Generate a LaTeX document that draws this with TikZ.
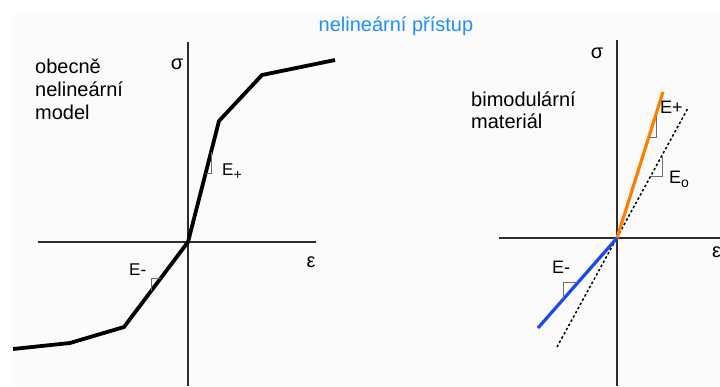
\documentclass[tikz,border=0pt]{standalone}
\usepackage{fontspec}
\setmainfont{Liberation Sans}
\definecolor{titleblue}{RGB}{30,144,255}
\definecolor{eorange}{RGB}{255,128,0}
\definecolor{eblue}{RGB}{25,75,235}
\definecolor{bgray}{RGB}{251,251,251}
\definecolor{axisgray}{RGB}{45,45,45}
\definecolor{markgray}{RGB}{110,110,110}
\newcommand{\lowsub}[1]{\raisebox{-4pt}{\fontsize{14}{16}\selectfont #1}}
\tikzset{
  axisline/.style={draw=axisgray, line width=1.8pt},
  curveline/.style={draw=black, line width=3.8pt, line join=miter},
  ratemark/.style={draw=markgray, line width=0.9pt},
  dotline/.style={draw=black, line width=1.5pt, dash pattern=on 2.5pt off 2.3pt},
  lbl/.style={inner sep=0pt, font=\fontsize{20}{23}\selectfont},
  elbl/.style={inner sep=0pt, font=\fontsize{17}{20}\selectfont},
  relbl/.style={inner sep=0pt, font=\fontsize{18}{21}\selectfont},
  greek/.style={inner sep=0pt, font=\fontsize{20}{22}\selectfont}
}
\begin{document}
\begin{tikzpicture}[x=1pt,y=-1pt]
\useasboundingbox (0,0) rectangle (720,386);
\fill[bgray] (13,13) rectangle (720,386);

% title
\node[lbl, text=titleblue, anchor=base] (title) at (396,31) {nelineární přístup};

% ---------- left plot ----------
\coordinate (lo) at (188,242);
\draw[axisline] (188,42) -- (188,386);
\draw[axisline] (38,242) -- (316,242);
\node[greek] (lsig) at (177,64) {σ};
\node[greek] (leps) at (311,262) {ε};
\draw[curveline] (13,349) -- (70,343) -- (124,327) -- (lo) -- (219,121) -- (262,75) -- (335,60);
\draw[ratemark] (211,152) -- (211,173) -- (205.5,173);
\draw[ratemark] (161,278) -- (151,278) -- (151,291);
\node[elbl, anchor=base west] (lep) at (222,175) {E\lowsub{+}};
\node[elbl, anchor=base west] (lem) at (129,275) {E-};
\node[lbl, anchor=base west] (l1) at (35,73) {obecně};
\node[lbl, anchor=base west] (l2) at (35,96) {nelineární};
\node[lbl, anchor=base west] (l3) at (35,119) {model};

% ---------- right plot ----------
\coordinate (ro) at (617,238);
\draw[axisline] (617,40) -- (617,386);
\draw[axisline] (499,238) -- (720,238);
\node[greek] (rsig) at (597,53) {σ};
\node[greek, anchor=west] (reps) at (712,252) {ε};
\draw[dotline] (557,347) -- (688,108);
\draw[draw=eorange, line width=3.2pt] (ro) -- (663,92);
\draw[draw=eblue, line width=3.2pt] (ro) -- (538,328);
\draw[ratemark] (656,116) -- (656,137) -- (649,137);
\draw[ratemark] (662,156) -- (662,176) -- (651,176);
\draw[ratemark] (578,282) -- (563,282) -- (563,299);
\node[relbl, anchor=base west] (rep) at (660,113) {E+};
\node[relbl, anchor=base west] (reo) at (669,183) {E\lowsub{o}};
\node[relbl, anchor=base west] (rem) at (552,273) {E-};
\node[lbl, anchor=base west] (r1) at (471,106) {bimodulární};
\node[lbl, anchor=base west] (r2) at (471,128) {materiál};
\end{tikzpicture}
\end{document}
